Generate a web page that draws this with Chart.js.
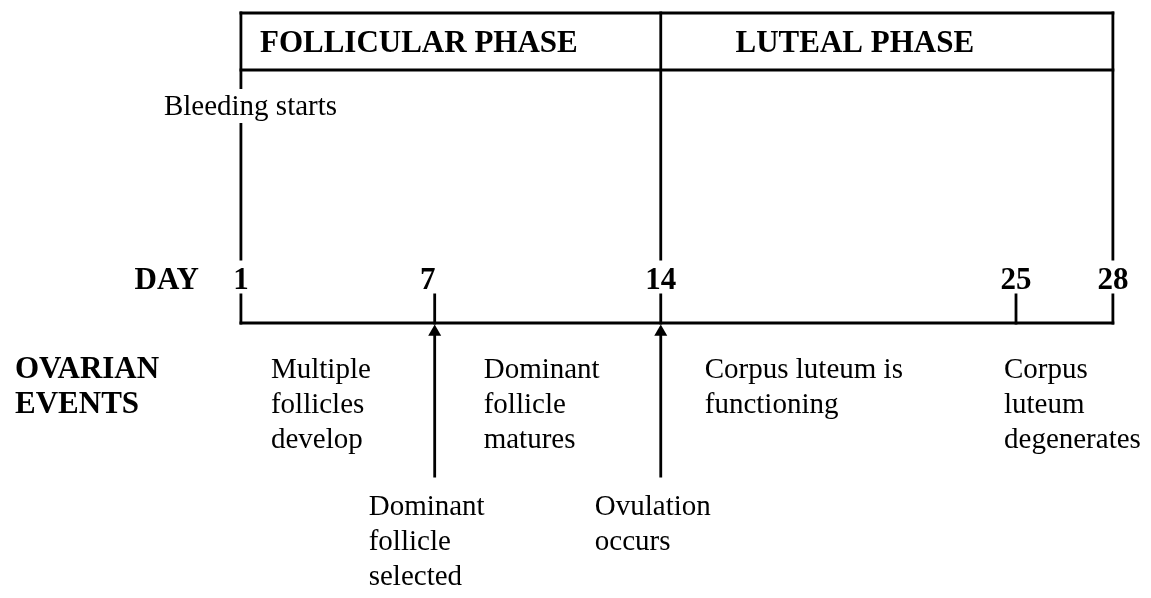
<!DOCTYPE html>
<html>
<head>
<meta charset="utf-8">
<title>Ovarian cycle</title>
<script src="https://cdn.jsdelivr.net/npm/chart.js@4.4.1/dist/chart.umd.min.js"></script>
<style>
  html, body { margin: 0; padding: 0; background: #fff; }
  #wrap { width: 1151px; height: 598px; }
</style>
</head>
<body>
<div id="wrap"><canvas id="cycle"></canvas></div>
<script>
// days marked on the timeline
const dayTicks = [1, 7, 14, 25, 28];

// phases, from start day to end day
const phaseNames = ['FOLLICULAR PHASE', 'LUTEAL PHASE'];
const phaseStart = [1, 14];
const phaseEnd = [14, 28];

// ovarian events written under the timeline, anchored at a day
const eventDays = [1, 7, 14, 25];
const eventLabels = [
  ['Multiple', 'follicles', 'develop'],
  ['Dominant', 'follicle', 'matures'],
  ['Corpus luteum is', 'functioning'],
  ['Corpus', 'luteum', 'degenerates']
];

// single events shown with an arrow
const arrowDays = [7, 14];
const arrowLabels = [
  ['Dominant', 'follicle', 'selected'],
  ['Ovulation', 'occurs']
];

const bleedDay = 1;
const bleedLabel = 'Bleeding starts';

// vertical layout, y scale runs 0..598 top to bottom
const ROW = {
  boxTop: 13, boxBottom: 70, phaseText: 52,
  bleedText: 115, phaseLineEnd: 259,
  dayText: 289, tickTop: 295, timeline: 323,
  arrowHead: 332, arrowEnd: 476,
  eventText: 378, arrowText: 515, lineGap: 35
};

const FONT = '"Liberation Serif", "Times New Roman", serif';
const INK = '#000';

function seg(x1, y1, x2, y2) {
  return {
    data: [{x: x1, y: y1}, {x: x2, y: y2}],
    showLine: true,
    borderColor: INK,
    borderWidth: 2.8,
    borderCapStyle: 'square',
    pointRadius: 0
  };
}

const datasets = [];
const first = dayTicks[0], last = dayTicks[dayTicks.length - 1];

// phase box
datasets.push(seg(first, ROW.boxTop, last, ROW.boxTop));
datasets.push(seg(first, ROW.boxBottom, last, ROW.boxBottom));
const bounds = [...new Set(phaseStart.concat(phaseEnd))];
bounds.forEach(d => datasets.push(seg(d, ROW.boxTop, d, ROW.phaseLineEnd)));

// timeline and day ticks
datasets.push(seg(first, ROW.timeline, last, ROW.timeline));
dayTicks.forEach(d => datasets.push(seg(d, ROW.tickTop, d, ROW.timeline)));

// arrows
arrowDays.forEach(d => datasets.push(seg(d, ROW.timeline + 8, d, ROW.arrowEnd)));
datasets.push({
  data: arrowDays.map(d => ({x: d, y: ROW.arrowHead})),
  pointStyle: 'triangle',
  pointRadius: 7.5,
  backgroundColor: INK,
  borderWidth: 0
});

const textPlugin = {
  id: 'diagramText',
  beforeDraw(chart) {
    const ctx = chart.ctx;
    ctx.save();
    ctx.fillStyle = '#fff';
    ctx.fillRect(0, 0, chart.width, chart.height);
    ctx.restore();
  },
  afterDatasetsDraw(chart) {
    const {ctx, scales: {x}} = chart;
    const px = d => x.getPixelForValue(d);
    ctx.save();
    ctx.fillStyle = INK;
    ctx.textBaseline = 'alphabetic';

    // phase titles
    ctx.font = 'bold 31px ' + FONT;
    ctx.textAlign = 'center';
    phaseNames.forEach((name, i) => {
      const cx = (px(phaseStart[i]) + px(phaseEnd[i])) / 2 - 32;
      ctx.fillText(name, cx, ROW.phaseText);
    });

    // day numbers
    dayTicks.forEach(d => {
      const off = d === 7 ? -7 : 0;
      ctx.fillText(String(d), px(d) + off, ROW.dayText);
    });
    ctx.textAlign = 'right';
    ctx.fillText('DAY', px(first) - 42, ROW.dayText);

    ctx.textAlign = 'left';
    ctx.fillText('OVARIAN', 15, ROW.eventText);
    ctx.fillText('EVENTS', 15, ROW.eventText + ROW.lineGap);

    // bleeding label, cut through the phase line
    ctx.font = '29px ' + FONT;
    const bx = px(bleedDay) - 77;
    const bw = ctx.measureText(bleedLabel).width;
    ctx.fillStyle = '#fff';
    ctx.fillRect(bx - 2, ROW.bleedText - 26, bw + 4, 34);
    ctx.fillStyle = INK;
    ctx.fillText(bleedLabel, bx, ROW.bleedText);

    // events under the timeline
    const eventOff = [30, 49, 44, -12];
    eventDays.forEach((d, i) => {
      eventLabels[i].forEach((line, j) => {
        ctx.fillText(line, px(d) + eventOff[i], ROW.eventText + j * ROW.lineGap);
      });
    });
    arrowDays.forEach((d, i) => {
      arrowLabels[i].forEach((line, j) => {
        ctx.fillText(line, px(d) - 66, ROW.arrowText + j * ROW.lineGap);
      });
    });
    ctx.restore();
  }
};

new Chart(document.getElementById('cycle'), {
  type: 'scatter',
  data: { datasets },
  options: {
    responsive: true,
    maintainAspectRatio: false,
    animation: false,
    events: [],
    layout: { padding: 0, autoPadding: false },
    plugins: { legend: { display: false }, tooltip: { enabled: false } },
    scales: {
      x: { type: 'linear', display: false, min: -6.46, max: 29.18 },
      y: { type: 'linear', display: false, min: 0, max: 598, reverse: true }
    }
  },
  plugins: [textPlugin]
});
</script>
</body>
</html>
